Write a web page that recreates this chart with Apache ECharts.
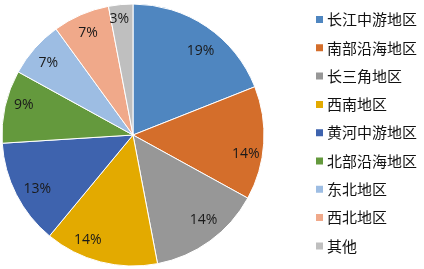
<!DOCTYPE html>
<html>
<head>
<meta charset="utf-8">
<script src="https://cdn.jsdelivr.net/npm/echarts@6/dist/echarts.min.js"></script>
<style>
  html, body { margin: 0; padding: 0; background: #fff; }
  #chart { width: 424px; height: 269px; }
</style>
</head>
<body>
<div id="chart"></div>
<script>
// Regional shares (%)
const regions = ['长江中游地区', '南部沿海地区', '长三角地区', '西南地区', '黄河中游地区', '北部沿海地区', '东北地区', '西北地区', '其他'];
const shares = [19, 14, 14, 14, 13, 9, 7, 7, 3];
const palette = ['#4f86c0', '#d46e2b', '#979797', '#e3aa00', '#3e63ae', '#64993d', '#9dbde3', '#f0a98a', '#bfbfbf'];
// small per-slice nudges for the percentage labels (px)
const labelNudge = [[4, 9], [0, 12], [4, -6], [-17, -4], [5, 3], [1, -5], [0, 3], [0, 2], [-3, -3]];

const center = [133, 135];

const chart = echarts.init(document.getElementById('chart'), null, { renderer: 'canvas' });
chart.setOption({
  animation: false,
  color: palette,
  legend: {
    orient: 'vertical',
    left: 314,
    top: 12,
    padding: 0,
    itemWidth: 9,
    itemHeight: 9,
    itemGap: 13.3,
    icon: 'rect',
    data: regions,
    textStyle: { fontSize: 15, color: '#111', fontFamily: 'Noto Sans CJK SC', padding: [0, 0, 0, -2] }
  },
  series: [
    {
      type: 'pie',
      center,
      radius: [0, 131],
      startAngle: 90,
      clockwise: true,
      data: regions.map((name, i) => ({ name, value: shares[i] })),
      itemStyle: { borderColor: '#fff', borderWidth: 1 },
      label: { show: false },
      labelLine: { show: false }
    },
    {
      // transparent ring that positions the percentage labels
      type: 'pie',
      center,
      radius: [89, 131],
      startAngle: 90,
      clockwise: true,
      silent: true,
      data: regions.map((name, i) => ({
        name,
        value: shares[i],
        label: { offset: labelNudge[i] }
      })),
      itemStyle: { color: 'rgba(0,0,0,0)' },
      label: {
        show: true,
        position: 'inside',
        formatter: p => p.value + '%',
        fontSize: 14,
        color: '#1a1a1a',
        fontFamily: 'Open Sans'
      },
      labelLine: { show: false }
    }
  ]
});
</script>
</body>
</html>
